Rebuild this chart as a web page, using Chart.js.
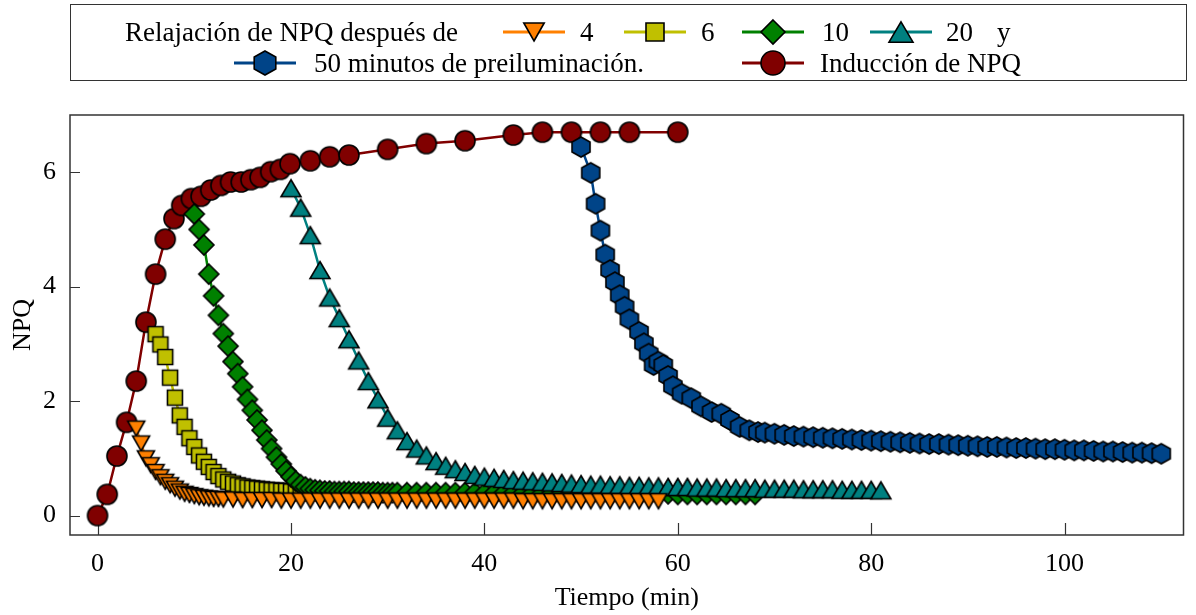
<!DOCTYPE html>
<html>
<head>
<meta charset="utf-8">
<script src="https://cdn.jsdelivr.net/npm/chart.js@4"></script>
<style>
  html, body { margin: 0; padding: 0; background: #fff; }
  #wrap { position: relative; width: 1196px; height: 615px; }
  #legend {
    position: absolute; left: 70px; top: 4px; width: 1117px; height: 77px;
    box-sizing: border-box; border: 1px solid #333;
    font-family: "Liberation Serif", "Times New Roman", serif; font-size: 27px; color: #000;
  }
  #legend .it { position: absolute; white-space: nowrap; transform: translateY(-50%); line-height: 1; }
  #legend canvas { position: absolute; transform: translate(-50%, -50%); }
</style>
</head>
<body>
<div id="wrap">
  <canvas id="npqChart"></canvas>
  <div id="legend"></div>
</div>
<script>
/* ===== data ===== */
const xTicks = [0, 20, 40, 60, 80, 100];
const yTicks = [0, 2, 4, 6];

const indTime = [0, 1, 2, 3, 4, 5, 6, 7, 7.9, 8.7, 9.7, 10.7, 11.7, 12.75, 13.75, 14.85, 15.85, 16.8, 17.9, 18.9, 19.9,
  22, 24, 26, 30, 34, 38, 43, 46, 49, 52, 55, 60];
const indNpq = [0, 0.37, 1.04, 1.63, 2.35, 3.38, 4.22, 4.83, 5.19, 5.42, 5.54, 5.58, 5.69, 5.77, 5.83, 5.83, 5.87, 5.91, 6.01, 6.05, 6.15,
  6.2, 6.27, 6.3, 6.4, 6.5, 6.55, 6.65, 6.7, 6.7, 6.7, 6.7, 6.7];

const relax4Time = [4, 4.5, 5, 5.5, 6, 6.5, 7, 7.5, 8, 8.5, 9, 9.5, 10, 10.5, 11, 11.5, 12, 12.5, 13,
  14, 15, 16, 17, 18, 19, 20, 21, 22, 23, 24, 25, 26, 27, 28, 29, 30, 31, 32, 33, 34, 35, 36, 37, 38, 39,
  40, 41, 42, 43, 44, 45, 46, 47, 48, 49, 50, 51, 52, 53, 54, 55, 56, 57, 58];
const relax4Npq = [1.52, 1.26, 1.0, 0.88, 0.76, 0.67, 0.59, 0.53, 0.47, 0.42, 0.38, 0.36, 0.34, 0.32, 0.31, 0.30, 0.29, 0.29, 0.28,
  0.28, 0.27, 0.27, 0.27, 0.27, 0.26, 0.26, 0.26, 0.26, 0.26, 0.26, 0.26, 0.26, 0.26, 0.26, 0.26, 0.26, 0.26, 0.26, 0.26,
  0.26, 0.26, 0.26, 0.26, 0.26, 0.26, 0.26, 0.26, 0.26, 0.26, 0.25, 0.25, 0.25, 0.25, 0.25, 0.25, 0.25, 0.25, 0.25, 0.25,
  0.25, 0.25, 0.25, 0.25, 0.25];

const relax6Time = [6, 6.5, 7, 7.5, 8, 8.5, 9, 9.5, 10, 10.5, 11, 11.5, 12, 12.5, 13, 13.5, 14, 14.5, 15, 15.5, 16, 16.5,
  17, 17.5, 18, 18.5, 19, 19.5, 20, 20.5, 21, 21.5, 22, 22.5, 23, 23.5, 24, 24.5, 25, 25.5, 26, 26.5, 27, 27.5, 28, 28.5,
  29, 29.5, 30];
const relax6Npq = [3.17, 2.99, 2.77, 2.41, 2.06, 1.75, 1.55, 1.35, 1.20, 1.05, 0.94, 0.85, 0.76, 0.69, 0.63, 0.59, 0.56, 0.53,
  0.51, 0.49, 0.48, 0.47, 0.46, 0.45, 0.44, 0.44, 0.43, 0.43, 0.42, 0.42, 0.42, 0.41, 0.41, 0.41, 0.41, 0.40, 0.40, 0.40,
  0.40, 0.40, 0.40, 0.40, 0.40, 0.39, 0.39, 0.39, 0.39, 0.39, 0.39];

const relax10Time = [10, 10.5, 11, 11.5, 12, 12.5, 13, 13.5, 14, 14.5, 15, 15.5, 16, 16.5, 17, 17.5, 18, 18.5, 19, 19.5,
  20, 20.5, 21, 21.5, 22, 22.5, 23, 23.5, 24, 24.5, 25, 25.5, 26, 26.5, 27, 27.5, 28, 28.5, 29, 29.5, 30, 30.5, 31,
  32, 33, 34, 35, 36, 37, 38, 39, 40, 41, 42, 43, 44, 45, 46, 47, 48, 49, 50, 51, 52, 53, 54, 55, 56, 57, 58, 59,
  60, 61, 62, 63, 64, 65, 66, 67, 68];
const relax10Npq = [5.27, 5.0, 4.73, 4.22, 3.84, 3.50, 3.18, 2.96, 2.69, 2.48, 2.25, 2.03, 1.84, 1.67, 1.49, 1.32, 1.17, 1.02,
  0.90, 0.78, 0.68, 0.60, 0.54, 0.50, 0.47, 0.45, 0.44, 0.43, 0.43, 0.42, 0.42, 0.42, 0.42, 0.41, 0.41, 0.41, 0.41, 0.41,
  0.41, 0.40, 0.40, 0.40, 0.40,
  0.40, 0.40, 0.40, 0.40, 0.40, 0.40, 0.40, 0.40, 0.39, 0.39, 0.39, 0.39, 0.39, 0.39, 0.39, 0.39, 0.39, 0.39,
  0.38, 0.38, 0.38, 0.38, 0.38, 0.38, 0.38, 0.38, 0.38, 0.38, 0.37, 0.37, 0.37, 0.37, 0.37, 0.37, 0.37, 0.37, 0.37];

const relax20Time = [20, 21, 22, 23, 24, 25, 26, 27, 28, 29, 30, 31, 32, 33, 34, 35, 36, 37, 38, 39, 40, 41, 42, 43, 44,
  45, 46, 47, 48, 49, 50, 51, 52, 53, 54, 55, 56, 57, 58, 59, 60, 61, 62, 63, 64, 65, 66, 67, 68, 69, 70, 71, 72, 73,
  74, 75, 76, 77, 78, 79, 80, 81];
const relax20Npq = [5.72, 5.38, 4.90, 4.29, 3.81, 3.45, 3.08, 2.71, 2.35, 2.03, 1.71, 1.49, 1.30, 1.17, 1.05, 0.95, 0.87,
  0.81, 0.76, 0.71, 0.68, 0.66, 0.64, 0.62, 0.61, 0.60, 0.59, 0.58, 0.57, 0.56, 0.55, 0.54, 0.54, 0.53, 0.53, 0.52,
  0.52, 0.51, 0.51, 0.50, 0.50, 0.50, 0.49, 0.49, 0.49, 0.48, 0.48, 0.48, 0.48, 0.47, 0.47, 0.47, 0.47, 0.46, 0.46,
  0.46, 0.46, 0.45, 0.45, 0.45, 0.45, 0.44];

const relax50Time = [50, 51, 51.5, 52, 52.5, 53, 53.5, 54, 54.5, 55, 56, 56.5, 57, 57.5, 58, 58.5, 59, 59.5, 60.4, 61.4,
  62.4, 63.5, 64.5, 65.4, 66.4, 67.4, 68.3, 69, 70, 71, 72, 73, 74, 75, 76, 77, 78, 79, 80, 81, 82, 83, 84, 85, 86,
  87, 88, 89, 90, 91, 92, 93, 94, 95, 96, 97, 98, 99, 100, 101, 102, 103, 104, 105, 106, 107, 108, 109, 110];
const relax50Npq = [6.44, 5.99, 5.45, 4.98, 4.56, 4.29, 4.08, 3.85, 3.65, 3.43, 3.21, 3.01, 2.83, 2.63, 2.69, 2.63, 2.44,
  2.26, 2.13, 2.05, 1.91, 1.81, 1.78, 1.67, 1.55, 1.49, 1.46,
  1.45, 1.43, 1.41, 1.39, 1.38, 1.37, 1.36, 1.35, 1.34, 1.33, 1.32, 1.31, 1.30, 1.29, 1.28, 1.27, 1.26, 1.25, 1.25,
  1.24, 1.23, 1.22, 1.21, 1.20, 1.20, 1.19, 1.18, 1.18, 1.17, 1.16, 1.16, 1.15, 1.14, 1.14, 1.13, 1.12, 1.12, 1.11,
  1.10, 1.10, 1.09, 1.08];

const serif = "'Liberation Serif', 'Times New Roman', serif";

// marker shapes, drawn into small canvases used as point styles
function drawShape(g, shape, cx, cy, k, fill) {
  g.beginPath();
  if (shape === "circle") {
    g.arc(cx, cy, 10 * k, 0, Math.PI * 2);
  } else if (shape === "square") {
    g.rect(cx - 7.5 * k, cy - 7.5 * k, 15 * k, 15 * k);
  } else if (shape === "diamond") {
    g.moveTo(cx, cy - 10 * k); g.lineTo(cx + 10 * k, cy); g.lineTo(cx, cy + 10 * k); g.lineTo(cx - 10 * k, cy);
    g.closePath();
  } else if (shape === "triUp") {
    g.moveTo(cx, cy - 8.5 * k); g.lineTo(cx + 10 * k, cy + 8.5 * k); g.lineTo(cx - 10 * k, cy + 8.5 * k);
    g.closePath();
  } else if (shape === "triDown") {
    g.moveTo(cx, cy + 7.5 * k); g.lineTo(cx + 8.5 * k, cy - 7.5 * k); g.lineTo(cx - 8.5 * k, cy - 7.5 * k);
    g.closePath();
  } else if (shape === "hexagon") {
    g.moveTo(cx, cy - 10 * k); g.lineTo(cx + 9 * k, cy - 5 * k); g.lineTo(cx + 9 * k, cy + 5 * k);
    g.lineTo(cx, cy + 10 * k); g.lineTo(cx - 9 * k, cy + 5 * k); g.lineTo(cx - 9 * k, cy - 5 * k);
    g.closePath();
  }
  g.fillStyle = fill;
  g.fill();
  g.lineWidth = 1.6;
  g.lineJoin = "miter";
  g.strokeStyle = "#000";
  g.stroke();
}

function markerCanvas(shape, fill) {
  const c = document.createElement("canvas");
  c.width = 26; c.height = 26;
  drawShape(c.getContext("2d"), shape, 13, 13, 1, fill);
  return c;
}

const seriesInfo = [
  { label: "4", t: relax4Time, v: relax4Npq, color: "#ff8000", shape: "triDown", order: 0 },
  { label: "6", t: relax6Time, v: relax6Npq, color: "#c0c000", shape: "square", order: 3 },
  { label: "10", t: relax10Time, v: relax10Npq, color: "#008000", shape: "diamond", order: 2 },
  { label: "20", t: relax20Time, v: relax20Npq, color: "#008080", shape: "triUp", order: 1 },
  { label: "50 minutos de preiluminación.", t: relax50Time, v: relax50Npq, color: "#004488", shape: "hexagon", order: 4 },
  { label: "Inducción de NPQ", t: indTime, v: indNpq, color: "#800000", shape: "circle", order: 5 },
];

const datasets = seriesInfo.map(s => ({
  label: s.label,
  data: s.t.map((x, i) => ({ x, y: s.v[i] })),
  borderColor: s.color,
  backgroundColor: s.color,
  borderWidth: 2.5,
  pointStyle: markerCanvas(s.shape, s.color),
  pointRadius: 10,
  pointHoverRadius: 10,
  tension: 0,
  fill: false,
  order: s.order,
}));

/* ===== frame + inward ticks ===== */
const frameTicks = {
  id: "frameTicks",
  beforeDatasetsDraw(chart) {
    const { ctx, chartArea: a, scales: { x, y } } = chart;
    ctx.save();
    ctx.strokeStyle = "#333";
    ctx.lineWidth = 1.5;
    ctx.strokeRect(a.left, a.top, a.right - a.left, a.bottom - a.top);
    ctx.beginPath();
    xTicks.forEach(v => {
      const px = Math.round(x.getPixelForValue(v)) + 0.5;
      ctx.moveTo(px, a.bottom); ctx.lineTo(px, a.bottom - 12);
    });
    yTicks.forEach(v => {
      const py = Math.round(y.getPixelForValue(v)) + 0.5;
      ctx.moveTo(a.left, py); ctx.lineTo(a.left + 10, py);
    });
    ctx.lineWidth = 1.2;
    ctx.stroke();
    ctx.restore();
  },
};

const wrap = document.getElementById("wrap");
const cv = document.getElementById("npqChart");
cv.style.width = "1196px"; cv.style.height = "615px";

new Chart(cv, {
  type: "line",
  data: { datasets },
  options: {
    responsive: true,
    maintainAspectRatio: false,
    animation: false,
    events: [],
    layout: { padding: { top: 115, right: 9, left: 0, bottom: 0 } },
    plugins: { legend: { display: false }, tooltip: { enabled: false } },
    scales: {
      x: {
        type: "linear",
        min: -2.85,
        max: 112.3,
        grid: { display: false, drawTicks: false },
        border: { display: false },
        afterBuildTicks: s => { s.ticks = xTicks.map(v => ({ value: v })); },
        afterFit: s => { s.height = 80; },
        ticks: { color: "#000", padding: 14, maxRotation: 0, font: { family: serif, size: 26 } },
        title: { display: true, text: "Tiempo (min)", color: "#000", padding: { top: 0, bottom: 1 },
          font: { family: serif, size: 26 } },
      },
      y: {
        type: "linear",
        min: -0.34,
        max: 7.0,
        grid: { display: false, drawTicks: false },
        border: { display: false },
        afterBuildTicks: s => { s.ticks = yTicks.map(v => ({ value: v })); },
        afterFit: s => { s.width = 70; },
        ticks: { color: "#000", padding: 14, font: { family: serif, size: 26 } },
        title: { display: true, text: "NPQ", color: "#000", padding: { top: 8, bottom: 0 },
          font: { family: serif, size: 26 } },
      },
    },
  },
  plugins: [frameTicks],
});

/* ===== legend (two rows, like the original) ===== */
const legend = document.getElementById("legend");
function addText(txt, left, cy) {
  const el = document.createElement("span");
  el.className = "it";
  el.textContent = txt;
  el.style.left = left + "px";
  el.style.top = cy + "px";
  legend.appendChild(el);
}
function addIcon(s, cx, cy) {
  const c = document.createElement("canvas");
  c.width = 64; c.height = 32;
  const g = c.getContext("2d");
  g.strokeStyle = s.color; g.lineWidth = 3;
  g.beginPath(); g.moveTo(1, 16); g.lineTo(63, 16); g.stroke();
  drawShape(g, s.shape, 32, 16, 1.2, s.color);
  c.style.left = cx + "px";
  c.style.top = cy + "px";
  legend.appendChild(c);
}
const row1 = 27, row2 = 58;
addText("Relajación de NPQ después de", 54, row1);
const legendSlots = [
  { cx: 463, tx: 509, cy: row1 },
  { cx: 584, tx: 630, cy: row1 },
  { cx: 702, tx: 751, cy: row1 },
  { cx: 830, tx: 875, cy: row1 },
  { cx: 194, tx: 243, cy: row2 },
  { cx: 702, tx: 749, cy: row2 },
];
seriesInfo.forEach((s, i) => {
  const p = legendSlots[i];
  addIcon(s, p.cx, p.cy);
  addText(s.label, p.tx, p.cy);
});
addText("y", 926, row1);
</script>
</body>
</html>
